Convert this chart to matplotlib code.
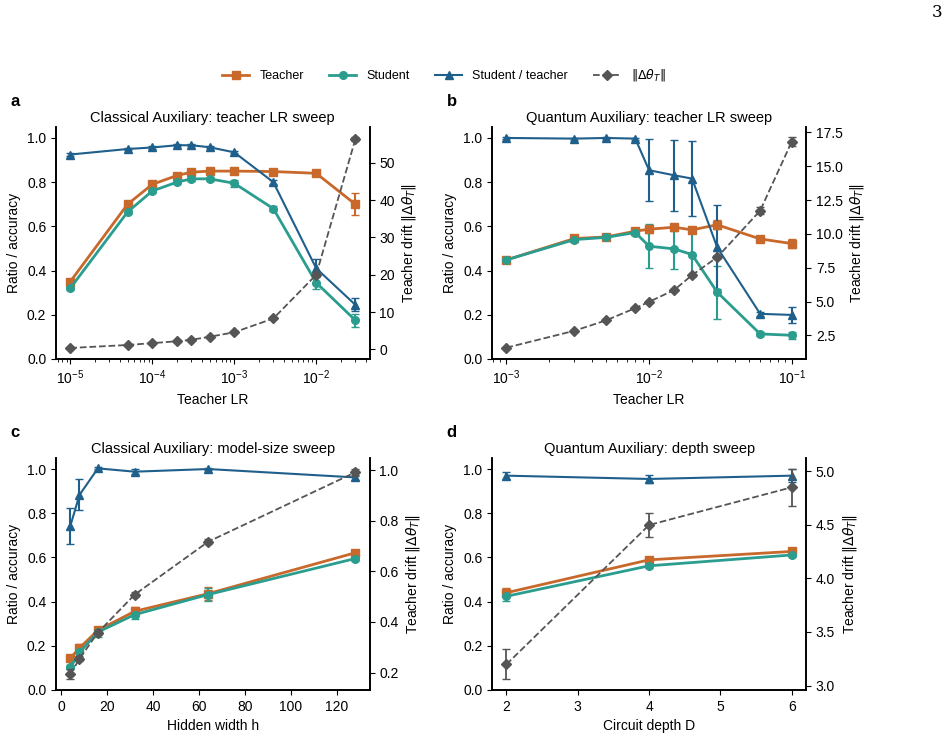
import numpy as np
import matplotlib
matplotlib.use('Agg')
import matplotlib.pyplot as plt
from matplotlib.lines import Line2D

plt.rcParams['font.family'] = ['Liberation Sans', 'DejaVu Sans']
plt.rcParams['mathtext.fontset'] = 'dejavusans'
plt.rcParams['font.size'] = 10
plt.rcParams['axes.linewidth'] = 1.2

C_TEACH = '#c8692b'
C_STUD = '#2a9d8f'
C_RATIO = '#1f5f8b'
C_DRIFT = '#555555'

# panel a: classical, teacher LR sweep
a_lr = [1e-5, 5e-5, 1e-4, 2e-4, 3e-4, 5e-4, 1e-3, 3e-3, 1e-2, 3e-2]
a_teacher = [0.35, 0.70, 0.79, 0.83, 0.845, 0.85, 0.85, 0.848, 0.84, 0.70]
a_teacher_err = [0.01, 0.01, 0.01, 0.01, 0.01, 0.01, 0.01, 0.01, 0.01, 0.05]
a_student = [0.32, 0.665, 0.76, 0.80, 0.815, 0.815, 0.795, 0.68, 0.345, 0.175]
a_student_err = [0.01, 0.01, 0.01, 0.01, 0.01, 0.01, 0.015, 0.01, 0.03, 0.03]
a_ratio = [0.925, 0.95, 0.957, 0.967, 0.967, 0.958, 0.935, 0.80, 0.41, 0.245]
a_ratio_err = [0.005, 0.005, 0.005, 0.005, 0.005, 0.005, 0.005, 0.01, 0.04, 0.03]
a_drift = [0.4, 1.2, 1.7, 2.2, 2.6, 3.4, 4.6, 8.3, 20.0, 56.3]
a_drift_err = [0.1, 0.1, 0.1, 0.1, 0.1, 0.1, 0.1, 0.2, 0.4, 0.5]

# panel b: quantum, teacher LR sweep
b_lr = [1e-3, 3e-3, 5e-3, 8e-3, 1e-2, 1.5e-2, 2e-2, 3e-2, 6e-2, 1e-1]
b_teacher = [0.448, 0.545, 0.552, 0.578, 0.587, 0.596, 0.584, 0.607, 0.543, 0.522]
b_teacher_err = [0.01, 0.01, 0.01, 0.01, 0.015, 0.015, 0.015, 0.02, 0.01, 0.02]
b_student = [0.448, 0.54, 0.55, 0.572, 0.51, 0.498, 0.472, 0.302, 0.113, 0.107]
b_student_err = [0.01, 0.01, 0.01, 0.01, 0.10, 0.09, 0.10, 0.12, 0.01, 0.015]
b_ratio = [1.0, 0.997, 1.0, 0.997, 0.854, 0.831, 0.816, 0.505, 0.204, 0.199]
b_ratio_err = [0.005, 0.005, 0.005, 0.005, 0.14, 0.16, 0.17, 0.19, 0.01, 0.035]
b_drift = [1.60, 2.85, 3.62, 4.52, 4.99, 5.86, 6.96, 8.28, 11.72, 16.83]
b_drift_err = [0.05, 0.05, 0.05, 0.05, 0.05, 0.1, 0.1, 0.15, 0.25, 0.3]

# panel c: classical, model-size sweep
c_h = [4, 8, 16, 32, 64, 128]
c_teacher = [0.144, 0.19, 0.27, 0.356, 0.436, 0.621]
c_teacher_err = [0.01, 0.02, 0.015, 0.02, 0.03, 0.01]
c_student = [0.103, 0.17, 0.262, 0.341, 0.432, 0.595]
c_student_err = [0.01, 0.02, 0.02, 0.02, 0.03, 0.01]
c_ratio = [0.742, 0.883, 1.003, 0.988, 1.0, 0.962]
c_ratio_err = [0.083, 0.07, 0.005, 0.01, 0.005, 0.01]
c_drift = [0.193, 0.255, 0.358, 0.508, 0.717, 0.991]
c_drift_err = [0.02, 0.01, 0.01, 0.01, 0.01, 0.015]

# panel d: quantum, depth sweep
d_depth = [2, 4, 6]
d_teacher = [0.44, 0.589, 0.627]
d_teacher_err = [0.02, 0.01, 0.01]
d_student = [0.424, 0.562, 0.611]
d_student_err = [0.02, 0.01, 0.01]
d_ratio = [0.97, 0.955, 0.97]
d_ratio_err = [0.015, 0.02, 0.03]
d_drift = [3.197, 4.498, 4.85]
d_drift_err = [0.14, 0.115, 0.175]

drift_label = r'Teacher drift $\|\Delta\theta_T\|$'


def panel(rect, letter, title, x, teach, teach_e, stud, stud_e, ratio, ratio_e,
          drift, drift_e, xlabel, logx=False, xticks=None):
    ax = fig.add_axes(rect)
    ax.errorbar(x, teach, yerr=teach_e, color=C_TEACH, marker='s', ms=5.5, lw=2,
                capsize=3, elinewidth=1.5)
    ax.errorbar(x, stud, yerr=stud_e, color=C_STUD, marker='o', ms=5.5, lw=2,
                capsize=3, elinewidth=1.5)
    ax.errorbar(x, ratio, yerr=ratio_e, color=C_RATIO, marker='^', ms=5.5, lw=1.5,
                capsize=3, elinewidth=1.5)
    ax.set_ylim(0, 1.05)
    ax.set_yticks([0.0, 0.2, 0.4, 0.6, 0.8, 1.0])
    ax.set_ylabel('Ratio / accuracy')
    ax.set_xlabel(xlabel)
    if logx:
        ax.set_xscale('log')
    if xticks is not None:
        ax.set_xticks(xticks)
    ax.spines['top'].set_visible(False)
    ax.set_title(title, fontsize=10.5, pad=3.5)
    ax2 = ax.twinx()
    ax2.errorbar(x, drift, yerr=drift_e, color=C_DRIFT, marker='D', ms=5, lw=1.3,
                 ls='--', capsize=3, elinewidth=1.3)
    ax2.set_ylabel(drift_label)
    ax2.spines['top'].set_visible(False)
    fig.text(rect[0] - 0.048, rect[1] + rect[3] + 0.028, letter, fontsize=12,
             fontweight='bold')
    return ax, ax2


fig = plt.figure(figsize=(9.5, 7.4), dpi=100)

ax_a, ax_a2 = panel([0.059, 0.515, 0.330, 0.3135], 'a', 'Classical Auxiliary: teacher LR sweep',
                    a_lr, a_teacher, a_teacher_err, a_student, a_student_err,
                    a_ratio, a_ratio_err, a_drift, a_drift_err, 'Teacher LR', logx=True)
ax_a2.set_yticks([0, 10, 20, 30, 40, 50])

ax_b, ax_b2 = panel([0.518, 0.515, 0.3305, 0.3135], 'b', 'Quantum Auxiliary: teacher LR sweep',
                    b_lr, b_teacher, b_teacher_err, b_student, b_student_err,
                    b_ratio, b_ratio_err, b_drift, b_drift_err, 'Teacher LR', logx=True)
ax_b2.set_yticks([2.5, 5.0, 7.5, 10.0, 12.5, 15.0, 17.5])

ax_c, ax_c2 = panel([0.059, 0.0676, 0.330, 0.3135], 'c', 'Classical Auxiliary: model-size sweep',
                    c_h, c_teacher, c_teacher_err, c_student, c_student_err,
                    c_ratio, c_ratio_err, c_drift, c_drift_err, 'Hidden width h',
                    xticks=[0, 20, 40, 60, 80, 100, 120])
ax_c2.set_yticks([0.2, 0.4, 0.6, 0.8, 1.0])

ax_d, ax_d2 = panel([0.518, 0.0676, 0.3305, 0.3135], 'd', 'Quantum Auxiliary: depth sweep',
                    d_depth, d_teacher, d_teacher_err, d_student, d_student_err,
                    d_ratio, d_ratio_err, d_drift, d_drift_err, 'Circuit depth D',
                    xticks=[2, 3, 4, 5, 6])
ax_d2.set_yticks([3.0, 3.5, 4.0, 4.5, 5.0])

handles = [
    Line2D([], [], color=C_TEACH, marker='s', ms=5.5, lw=2),
    Line2D([], [], color=C_STUD, marker='o', ms=5.5, lw=2),
    Line2D([], [], color=C_RATIO, marker='^', ms=5.5, lw=1.5),
    Line2D([], [], color=C_DRIFT, marker='D', ms=5, lw=1.3, ls='--'),
]
labels = ['Teacher', 'Student', 'Student / teacher', r'$\|\Delta\theta_T\|$']
fig.legend(handles, labels, loc='center', bbox_to_anchor=(0.467, 0.898), ncol=4,
           frameon=False, fontsize=9, columnspacing=2.0, handlelength=2.2)

fig.text(0.992, 0.995, '3', ha='right', va='top', fontsize=12, family='DejaVu Serif')

fig.savefig('out.png', dpi=100)
